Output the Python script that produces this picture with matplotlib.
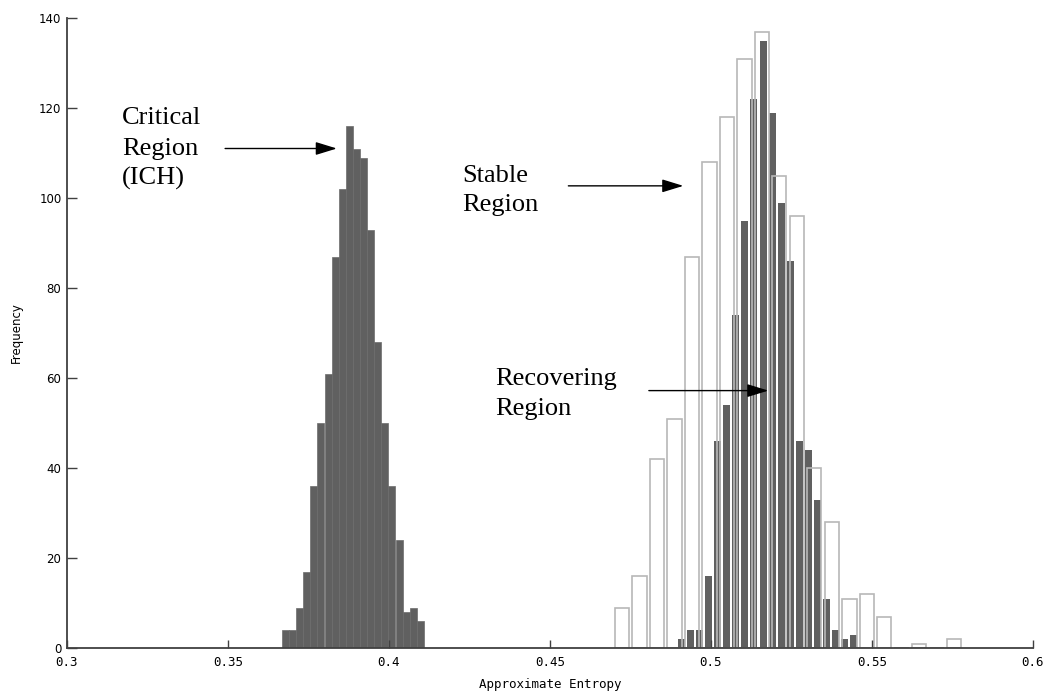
import matplotlib
matplotlib.use("Agg")
import matplotlib.pyplot as plt

# Critical Region (ICH) - 20 bins, bars touching
crit_centers = [0.3678, 0.3700, 0.3722, 0.3744, 0.3766, 0.3788, 0.3811, 0.3833, 0.3855, 0.3877,
                0.3899, 0.3921, 0.3943, 0.3965, 0.3987, 0.4009, 0.4032, 0.4054, 0.4076, 0.4098]
crit_counts = [4, 4, 9, 17, 36, 50, 61, 87, 102, 116, 111, 109, 93, 68, 50, 36, 24, 8, 9, 6]

# Recovering Region - dark bars
rec_centers = [0.4909, 0.4937, 0.4965, 0.4993, 0.5021, 0.5049, 0.5077, 0.5105, 0.5133, 0.5162,
               0.5190, 0.5218, 0.5246, 0.5274, 0.5302, 0.5330, 0.5358, 0.5386, 0.5414, 0.5442]
rec_counts = [2, 4, 4, 16, 46, 54, 74, 95, 122, 135, 119, 99, 86, 46, 44, 33, 11, 4, 2, 3]

# Stable Region - outlined bars
stable_centers = [0.4724, 0.4778, 0.4833, 0.4887, 0.4941, 0.4995, 0.5050, 0.5104, 0.5158, 0.5212,
                  0.5267, 0.5321, 0.5375, 0.5430, 0.5484, 0.5538, 0.5592, 0.5647, 0.5701, 0.5755]
stable_counts = [9, 16, 42, 51, 87, 108, 118, 131, 137, 105, 96, 40, 28, 11, 12, 7, 0, 1, 0, 2]

xticks = [0.3, 0.35, 0.4, 0.45, 0.5, 0.55, 0.6]
xtick_labels = ["0.3", "0.35", "0.4", "0.45", "0.5", "0.55", "0.6"]
yticks = [0, 20, 40, 60, 80, 100, 120, 140]

fig = plt.figure(figsize=(10.52, 6.98), dpi=100)
ax = fig.add_axes([67 / 1052, 50 / 698, 966 / 1052, 630 / 698])

ax.bar(crit_centers, crit_counts, width=0.00221, color="#606060",
       edgecolor="#6c6c6c", linewidth=0.5)
ax.bar(rec_centers, rec_counts, width=0.00222, color="#606060", linewidth=0)
ax.bar(stable_centers, stable_counts, width=0.00443, facecolor="none",
       edgecolor="#b8b8b8", linewidth=1.2)

ax.set_xlim(0.3, 0.6)
ax.set_ylim(0, 140)
ax.set_xticks(xticks)
ax.set_xticklabels(xtick_labels, family="DejaVu Sans Mono", fontsize=9)
ax.set_yticks(yticks)
ax.set_yticklabels([str(v) for v in yticks], family="DejaVu Sans", fontsize=8.5)

for s in ["top", "right"]:
    ax.spines[s].set_visible(False)
for s in ["left", "bottom"]:
    ax.spines[s].set_color("#404040")
    ax.spines[s].set_linewidth(1.3)

ax.tick_params(axis="y", direction="in", length=7, width=1, color="#404040", pad=4)
ax.tick_params(axis="x", direction="in", length=6, width=1, color="#404040", pad=6)

ax.set_xlabel("Approximate Entropy", family="DejaVu Sans Mono", fontsize=9, labelpad=6)
ax.set_ylabel("Frequency", family="DejaVu Sans", fontsize=8.5)
ax.yaxis.set_label_coords(-0.046, 0.5)

serif = "Liberation Serif"
arrow = dict(arrowstyle="-|>,head_length=1.3,head_width=0.4", color="black",
             lw=1, shrinkA=0, shrinkB=0, mutation_scale=10)

# text labels, one line at a time (x, baseline y)
labels = [
    (0.3170, [(116.4, "Critical"), (109.6, "Region"), (102.9, "(ICH)")]),
    (0.4226, [(103.6, "Stable"), (97.0, "Region")]),
    (0.4329, [(58.4, "Recovering"), (51.8, "Region")]),
]
for x0, lines in labels:
    for y0, s in lines:
        ax.text(x0, y0, s, family=serif, fontsize=19, ha="left", va="baseline")

ax.annotate("", xy=(0.3838, 111.0), xytext=(0.3491, 111.0), arrowprops=arrow)
ax.annotate("", xy=(0.4914, 102.7), xytext=(0.4557, 102.7), arrowprops=arrow)
ax.annotate("", xy=(0.5178, 57.2), xytext=(0.4807, 57.2), arrowprops=arrow)

fig.savefig("out.png", dpi=100)
